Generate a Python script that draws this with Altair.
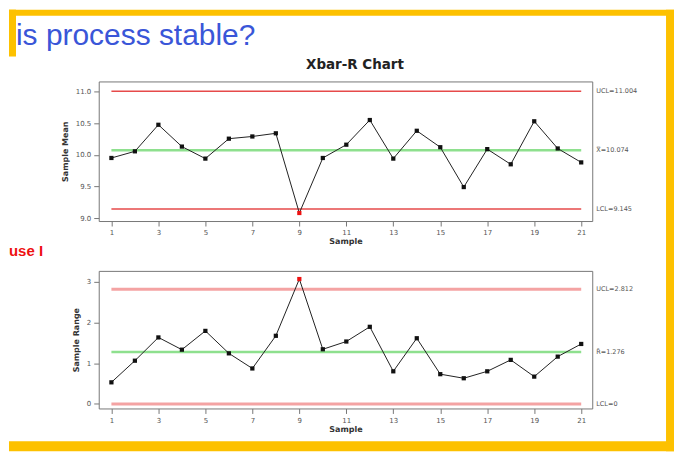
import altair as alt
import pandas as pd

# ---- data ----
samples = list(range(1, 22))
sample_means = [9.95, 10.055, 10.475, 10.13, 9.94, 10.255, 10.29, 10.34, 9.08, 9.95,
                10.16, 10.55, 9.94, 10.38, 10.12, 9.49, 10.09, 9.85, 10.53, 10.10, 9.88]
sample_ranges = [0.53, 1.06, 1.63, 1.33, 1.79, 1.24, 0.87, 1.67, 3.06, 1.34,
                 1.53, 1.89, 0.80, 1.61, 0.73, 0.63, 0.80, 1.08, 0.67, 1.16, 1.47]
out_of_control = [9]

limit_kind = ["UCL", "CL", "LCL"]
xbar_limits = [11.004, 10.074, 9.145]
xbar_labels = ["UCL=11.004", "X\u033F=10.074", "LCL=9.145"]
r_limits = [2.812, 1.276, 0.0]
r_labels = ["UCL=2.812", "R\u0304=1.276", "LCL=0"]
x_ticks = list(range(1, 22, 2))
mean_ticks = [9.0, 9.5, 10.0, 10.5, 11.0]
range_ticks = [0, 1, 2, 3]

YELLOW = "#FDC100"
W, H1, H2 = 495, 140, 138

df_mean = pd.DataFrame({"Sample": samples, "v": sample_means,
                        "flag": ["out" if s in out_of_control else "in" for s in samples]})
df_range = pd.DataFrame({"Sample": samples, "v": sample_ranges,
                         "flag": ["out" if s in out_of_control else "in" for s in samples]})
lim_mean = pd.DataFrame({"kind": limit_kind, "v": xbar_limits, "label": xbar_labels,
                         "x1": [samples[0]] * 3, "x2": [samples[-1]] * 3})
lim_range = pd.DataFrame({"kind": limit_kind, "v": r_limits, "label": r_labels,
                          "x1": [samples[0]] * 3, "x2": [samples[-1]] * 3})
one = pd.DataFrame({"a": [0]})

xscale = alt.Scale(domain=[0.46, 21.47], nice=False, zero=False)
xaxis = alt.Axis(values=x_ticks, format="d", title="Sample", labelPadding=3,
                 titlePadding=2)


def panel(df, lim, domain, ticks, fmt, ytitle, lim_color, lim_width):
    y = alt.Y("v:Q", scale=alt.Scale(domain=domain, nice=False, zero=False),
              axis=alt.Axis(values=ticks, format=fmt, title=ytitle, labelPadding=3,
                            titlePadding=6))
    x = alt.X("Sample:Q", scale=xscale, axis=xaxis)
    ctrl = alt.Chart(lim).transform_filter(alt.datum.kind != "CL").mark_rule(
        color=lim_color, strokeWidth=lim_width).encode(
        x=alt.X("x1:Q", scale=xscale, axis=xaxis), x2="x2:Q", y=y)
    center = alt.Chart(lim).transform_filter(alt.datum.kind == "CL").mark_rule(
        color="#8ee08e", strokeWidth=2.5).encode(
        x=alt.X("x1:Q", scale=xscale, axis=xaxis), x2="x2:Q", y=y)
    labels = alt.Chart(lim).mark_text(align="left", baseline="middle", fontSize=6.5,
                                      font="DejaVu Sans", color="#555").encode(
        x=alt.value(W + 4), y=y, text="label:N")
    line = alt.Chart(df).mark_line(color="#222", strokeWidth=1).encode(x=x, y=y)
    pts = alt.Chart(df).mark_point(shape="square", filled=True, size=18, opacity=1).encode(
        x=x, y=y,
        fill=alt.Fill("flag:N", scale=alt.Scale(domain=["in", "out"],
                      range=["#111111", "#ee1111"]), legend=None),
        stroke=alt.value(None))
    return [ctrl, center, line, pts, labels]


top_layers = panel(df_mean, lim_mean, [8.953, 11.16], mean_ticks, ".1f",
                   "Sample Mean", "#e64a4a", 1.5)
bot_layers = panel(df_range, lim_range, [-0.11, 3.26], range_ticks, "d",
                   "Sample Range", "#f4a3a3", 3)


def rect(x1, x2, y1, y2):
    return alt.Chart(one).mark_rect(color=YELLOW).encode(
        x=alt.value(x1), x2=alt.value(x2), y=alt.value(y1), y2=alt.value(y2))


deco = [
    rect(-90, 577, -72, -66),   # top strip
    rect(-90, -83, -72, -25),   # left piece
    rect(569, 577, -72, 371),   # right strip
    rect(-90, 577, 361, 371),   # bottom strip
    alt.Chart(one).mark_text(align="left", baseline="alphabetic", fontSize=30,
                             font="Liberation Sans", color="#3a56d8").encode(
        x=alt.value(-83), y=alt.value(-37), text=alt.value("is process stable?")),
    alt.Chart(one).mark_text(align="center", baseline="alphabetic", fontSize=13.5,
                             font="DejaVu Sans", fontWeight="bold", color="#222").encode(
        x=alt.value(257), y=alt.value(-12), text=alt.value("Xbar-R Chart")),
    alt.Chart(one).mark_text(align="left", baseline="alphabetic", fontSize=15,
                             font="Liberation Sans", fontWeight="bold", color="#ee1111").encode(
        x=alt.value(-90), y=alt.value(175), text=alt.value("use I")),
]

top = alt.layer(*top_layers, *deco).properties(width=W, height=H1)
bottom = alt.layer(*bot_layers).properties(width=W, height=H2)

chart = alt.vconcat(top, bottom, spacing=50, bounds="flush").properties(
    padding=0, background="white"
).configure_view(stroke="#777", strokeWidth=1).configure_axis(
    grid=False, domain=False, tickColor="#777", tickSize=5,
    labelFont="DejaVu Sans", labelFontSize=7, labelColor="#555",
    titleFont="DejaVu Sans", titleFontSize=8, titleFontWeight="bold", titleColor="#333",
)

chart.save("out.html", embed_options={"renderer": "svg", "actions": False})
